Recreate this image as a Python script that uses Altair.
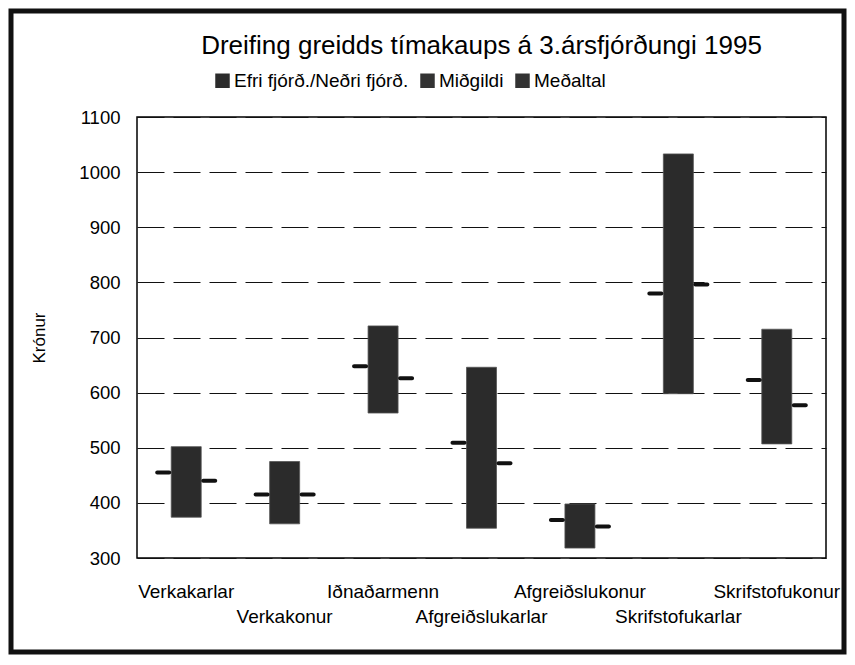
import altair as alt
import pandas as pd

# ---- data ----
categories = ["Verkakarlar", "Verkakonur", "Iðnaðarmenn", "Afgreiðslukarlar",
              "Afgreiðslukonur", "Skrifstofukarlar", "Skrifstofukonur"]
upper_quartile = [502, 475, 721, 646, 398, 1033, 715]
lower_quartile = [374, 362, 563, 354, 318, 598, 507]
median_vals = [455, 415, 648, 509, 369, 780, 623]
mean_vals = [440, 415, 626, 472, 357, 796, 577]
legend_labels = ["Efri fjórð./Neðri fjórð.", "Miðgildi", "Meðaltal"]
y_ticks = [300, 400, 500, 600, 700, 800, 900, 1000, 1100]

FONT = "Liberation Sans"
W, H = 689, 441
PAD = {"left": 129, "top": 109, "right": 21, "bottom": 97}

df = pd.DataFrame({
    "cat": categories,
    "upper": upper_quartile,
    "lower": lower_quartile,
    "median": median_vals,
    "mean": mean_vals,
})
df["k"] = legend_labels[0]

base = alt.Chart(df)
x_enc = alt.X("cat:N", sort=categories,
              scale=alt.Scale(paddingInner=0, paddingOuter=0), axis=None)
y_scale = alt.Scale(domain=[300, 1100], nice=False, zero=False)

bars = base.mark_bar(size=30, stroke="#555", strokeWidth=0.8, opacity=1).encode(
    x=x_enc,
    y=alt.Y("lower:Q", scale=y_scale,
            axis=alt.Axis(values=y_ticks, format="d", title="Krónur", grid=True,
                          gridDash=[27, 9], gridColor="#111", gridWidth=1.1,
                          ticks=False, domain=False,
                          labelFont=FONT, labelFontSize=18.5, labelColor="black",
                          labelPadding=17,
                          titleFont=FONT, titleFontSize=17, titleFontWeight="normal",
                          titleColor="black", titlePadding=30)),
    y2="upper:Q",
    color=alt.Color("k:N",
                    scale=alt.Scale(domain=legend_labels,
                                    range=["#2b2b2b", "#333333", "#333333"]),
                    legend=alt.Legend(orient="none", legendX=76, legendY=-46,
                                      direction="horizontal", title=None,
                                      symbolType="square", symbolSize=210,
                                      symbolStrokeWidth=0, symbolOpacity=1,
                                      labelFont=FONT, labelFontSize=19,
                                      labelColor="black", labelOffset=2,
                                      columnPadding=9, labelLimit=400)),
)

med = base.mark_tick(orient="horizontal", size=16, thickness=4, color="#111",
                     opacity=1, xOffset=-23, cornerRadius=2).encode(
    x=x_enc, y=alt.Y("median:Q", scale=y_scale))

mean = base.mark_tick(orient="horizontal", size=16, thickness=4, color="#111",
                      opacity=1, xOffset=23, cornerRadius=2).encode(
    x=x_enc, y=alt.Y("mean:Q", scale=y_scale))

lab_base = base.transform_window(rn="row_number()")
lab1 = lab_base.transform_filter("datum.rn % 2 == 1").mark_text(
    font=FONT, fontSize=19, color="black", align="center", baseline="alphabetic"
).encode(x=x_enc, y=alt.value(H + 40), text="cat:N")
lab2 = lab_base.transform_filter("datum.rn % 2 == 0").mark_text(
    font=FONT, fontSize=19, color="black", align="center", baseline="alphabetic"
).encode(x=x_enc, y=alt.value(H + 65), text="cat:N")

frame = alt.Chart(pd.DataFrame({"a": [0]})).mark_rect(
    fillOpacity=0, stroke="#111", strokeWidth=5
).encode(
    x=alt.value(-PAD["left"] + 3), x2=alt.value(W + PAD["right"] - 3),
    y=alt.value(-PAD["top"] + 3), y2=alt.value(H + PAD["bottom"] - 3),
)

chart = alt.layer(frame, bars, med, mean, lab1, lab2).properties(
    width=W, height=H,
    padding=PAD,
    autosize=alt.AutoSizeParams(type="none"),
    background="white",
    title=alt.TitleParams(text="Dreifing greidds tímakaups á 3.ársfjórðungi 1995",
                          font=FONT, fontSize=26, fontWeight="normal",
                          color="black", anchor="middle", frame="group",
                          offset=-50),
).configure_view(stroke="black", strokeWidth=1.5)

chart.save("out.html", embed_options={"renderer": "svg", "actions": False})
